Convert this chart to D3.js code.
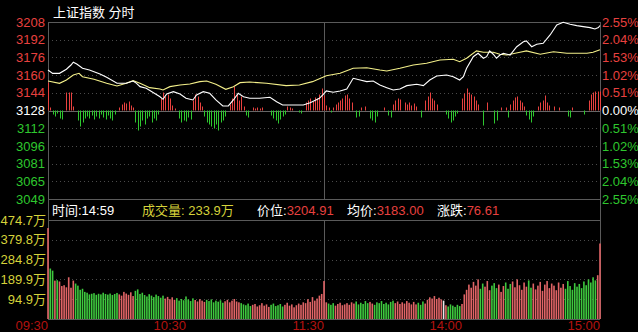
<!DOCTYPE html>
<html>
<head>
<meta charset="utf-8">
<script src="https://cdn.jsdelivr.net/npm/d3@7"></script>
<style>
  html, body { margin: 0; padding: 0; background: #000; }
  svg { display: block; font-family: "Liberation Sans", Arial, "Noto Sans CJK SC", sans-serif; }
</style>
</head>
<body>
<div id="chart"></div>
<script>
// ---- data ----
const prevClose = 3128.30;
const priceLabels = ["3208", "3192", "3176", "3160", "3144", "3128", "3112", "3096", "3081", "3065", "3049"];
const pctLabels = ["2.55%", "2.04%", "1.53%", "1.02%", "0.51%", "0.00%", "0.51%", "1.02%", "1.53%", "2.04%", "2.55%"];
const pctLevels = [2.55, 2.04, 1.53, 1.02, 0.51, 0, -0.51, -1.02, -1.53, -2.04, -2.55];
const volLabels = ["474.7万", "379.8万", "284.8万", "189.9万", "94.9万"];
const volLevels = [474.7, 379.8, 284.8, 189.9, 94.9];
const timeLabels = ["09:30", "10:30", "11:30", "14:00", "15:00"];
const timeMinutes = [0, 60, 120, 180, 240];

// white line (index)
const priceMinutes = [0, 2, 5, 8, 10, 11, 12.5, 15, 18, 22.6, 25.5, 30, 34, 37, 38.5, 40, 42.7, 48.7, 50, 51.6,
  54.5, 57.4, 60, 63, 64.6, 67.5, 70.3, 73, 76, 78.4, 80.6, 82.7, 85, 87.7, 92, 96.5, 99.4, 102, 106.7, 111,
  114, 118, 119.7, 121, 124, 127, 129.9, 132.7, 135.7, 138.6, 141.4, 144.3, 147.3, 150.1, 153, 156, 160.3, 163.2, 166, 169,
  173.3, 176.2, 179, 180.6, 182, 184.9, 187, 189.3, 190.7, 192, 193.6, 195, 196.5, 198, 200.9, 203.8, 206.7, 208, 210.3, 212.5,
  215.3, 218.3, 221.2, 224, 227, 229.9, 232.7, 235.7, 237.8, 239.3, 240];
const priceValues = [3164.8, 3161.8, 3161.8, 3165.5, 3169.3, 3171.8, 3170.2, 3166.4, 3164.8, 3161.2, 3158.2, 3152.8, 3152.8, 3154.9, 3152.8, 3149.8, 3148.3, 3140.7, 3138.4, 3143.2,
  3145.3, 3143.2, 3139.3, 3137.8, 3142.3, 3145.3, 3143.8, 3137.8, 3132.4, 3132.4, 3137.8, 3143.8, 3140.7, 3139.3, 3139.3, 3140.2, 3136.2, 3133.3, 3133.3, 3133.3,
  3135.3, 3139.3, 3142.9, 3145.9, 3144.7, 3145.9, 3147.7, 3157.3, 3155.8, 3154.3, 3154.9, 3151.3, 3148.9, 3146.8, 3147.7, 3150.7, 3151.9, 3150.7, 3155.8, 3159.4,
  3160.3, 3158.8, 3155.8, 3158.8, 3166.4, 3176.8, 3179.9, 3175.4, 3176.8, 3182.0, 3179.0, 3175.4, 3178.3, 3179.9, 3178.3, 3185.8, 3190.3, 3191.0, 3185.8, 3188.0,
  3188.9, 3196.4, 3205.4, 3207.8, 3206.0, 3204.8, 3203.9, 3203.0, 3201.8, 3203.0, 3204.91];

// yellow line
const avgMinutes = [0, 5, 8, 11, 13.5, 15, 20, 25.5, 30, 34, 37, 40, 44.2, 48.7, 50, 53, 57.4, 61.7, 66, 69,
  73, 77.3, 80.6, 83.5, 87.7, 95, 103.5, 109.3, 115, 119.5, 121, 127, 132.7, 138.6, 144.3, 147.3, 153, 158.8, 164.6, 170.4,
  176.2, 179, 182, 186.3, 189.3, 193.6, 196.5, 199.4, 205.2, 208, 214, 219.8, 225.6, 234.3, 237, 240];
const avgValues = [3154.9, 3152.8, 3155.8, 3160.3, 3161.8, 3158.8, 3156.4, 3152.8, 3150.4, 3152.8, 3155.2, 3152.8, 3148.9, 3147.7, 3146.8, 3149.8, 3151.3, 3152.2, 3154.3, 3154.9,
  3151.9, 3147.4, 3149.8, 3153.4, 3154.0, 3152.8, 3150.7, 3151.3, 3154.3, 3158.2, 3159.7, 3161.8, 3166.4, 3166.9, 3164.8, 3163.9, 3166.4, 3169.3, 3170.9, 3173.8,
  3174.5, 3172.3, 3175.4, 3182.0, 3180.8, 3180.8, 3179.0, 3178.3, 3180.8, 3182.0, 3179.0, 3181.3, 3179.9, 3179.9, 3180.8, 3183.0];

// red / green strength bars around the zero line
const flowMinutes = [0, 1, 2, 3, 4, 5, 6, 8, 9, 10, 11, 13, 14, 15, 16, 17, 18, 19, 20, 21, 22, 23, 24, 25, 26, 27, 28, 29,
  31, 32, 33, 34, 35, 36, 37, 38, 39, 40, 41, 42, 43, 44, 45, 46, 47, 48, 49, 50, 51, 52, 53, 54, 55, 57, 58, 59, 60, 61, 62,
  63, 64, 65, 66, 67, 68, 69, 70, 71, 72, 73, 74, 75, 76, 77, 79, 80, 81, 82, 83, 84, 85, 86, 87, 89, 90, 91, 92, 93,
  97, 98, 99, 100, 101, 102, 103, 104, 105, 106, 109, 110, 112, 113, 114, 115, 116, 117, 118, 119, 120, 121, 122, 123,
  124, 125, 126, 127, 128, 129, 130, 131, 132, 134, 135, 136, 138, 140, 141, 142, 143, 146, 148, 149, 150, 151, 152, 153,
  155, 156, 157, 158, 159, 160, 162, 164, 165, 166, 167, 168, 169, 173, 174, 175, 176, 177, 178, 180, 181, 182, 183, 184,
  185, 186, 187, 189, 191, 194, 195, 197, 199, 200, 201, 202, 203, 204, 205, 206, 207, 208, 209, 210, 211, 213, 214, 215,
  216, 217, 218, 220, 222, 226, 227, 228, 233, 235, 236, 237, 238, 239, 240];
const flowValues = [28, 3, -4, -6, -3, -8, -9, 18, 18, 18, 4, -10, -16, -12, -8, -6, -8, -5, -9, -6, -8, -4, -7, -9, -5, -8, -10, -4,
  3, 6, 8, 7, 9, 5, 3, -12, -20, -16, -10, -14, -8, -6, -12, -8, -10, -4, 12, 18, 14, 16, 12, 5, 2, -8, -12, -10, -11, -7, -9,
  10, 16, 14, 8, 4, -6, -12, -14, -16, -18, -14, -20, -12, -10, -6, 6, 12, 24, 16, 10, 14, 4, -5, -7, 3, 2, 3, 2, 3,
  -5, -8, -10, -13, -9, -6, -4, 4, 3, 2, -2, -3, 8, 10, 12, 9, 13, 12, 16, 22, 15, 5, 3, -2,
  3, 6, 8, 10, 12, 15, 16, 12, 8, -7, -6, 3, 4, -8, -10, -12, -6, 3, -5, -7, 6, 10, 12, 11,
  8, 6, 8, 5, 7, 4, -7, 10, 14, 18, 12, 10, 6, -4, -8, -12, -10, -6, -3, 12, 17, 22, 18, 16,
  14, 10, 6, -15, 8, -13, -10, 3, 3, -7, 6, 10, 13, 14, 10, 8, 4, -5, -9, -12, -6, 4, 8, 10,
  15, 8, 5, 4, 3, -6, -7, 3, -4, 10, 16, 18, 19, 19, 19];

// volume per minute (万), 09:30 .. 15:00
const volumes = [
  436, 242, 232, 184, 186, 180, 158, 162, 152, 200,
  150, 184, 170, 160, 140, 145, 130, 126, 118, 121,
  124, 116, 121, 118, 126, 120, 117, 122, 115, 120,
  125, 118, 112, 130, 122, 116, 128, 110, 135, 142,
  120, 126, 115, 108, 119, 112, 105, 117, 110, 102,
  112, 98, 106, 95, 104, 92, 100, 88, 96, 90,
  108, 94, 86, 99, 91, 84, 95, 88, 82, 92,
  86, 94, 80, 88, 83, 90, 78, 85, 92, 80,
  88, 96, 84, 80, 76, 70, 66, 74, 62, 68,
  72, 60, 66, 76, 64, 70, 58, 68, 74, 62,
  66, 72, 60, 68, 78, 64, 70, 56, 66, 74,
  68, 80, 76, 95, 82, 105, 88, 98, 112, 120,
  182, 80, 74, 68, 76, 64, 72, 78, 66, 70,
  76, 68, 80, 74, 84, 70, 78, 72, 86, 76,
  82, 74, 68, 80, 76, 86, 72, 78, 70, 82,
  88, 76, 84, 72, 80, 74, 86, 78, 70, 82,
  70, 78, 68, 84, 74, 92, 104, 98, 110, 96,
  102, 94, 88, 66, 60, 70, 64, 58, 68, 62,
  72, 118, 140, 165, 150, 178, 160, 190, 145, 170,
  155, 182, 138, 160, 172, 148, 165, 130, 158, 175,
  145, 168, 180, 152, 190, 162, 140, 175, 155, 185,
  150, 170, 142, 160, 178, 135, 165, 182, 148, 170,
  160, 138, 175, 150, 168, 145, 182, 158, 140, 172,
  155, 168, 148, 180, 162, 190, 175, 200, 185, 210,
  362];
const flatMinutes = [172];

// ---- layout ----
const width = 638, height = 332;
const plotLeft = 48, plotRight = 600;
const priceTop = 22, priceBottom = 199;
const infoBottom = 220;
const volTop = 220, volBottom = 319;

const red = "#e8413f", green = "#2ec72e", grid = "#4a4a4a", frame = "#5a5a5a";
const volRed = "#e06466", volGreen = "#3ec83e";

const svg = d3.select("#chart").append("svg")
  .attr("width", width)
  .attr("height", height)
  .style("background", "#000");

const x = d3.scaleLinear().domain([0, 240]).range([plotLeft, plotRight]);
const yPrice = d3.scaleLinear()
  .domain([prevClose * (1 - 0.0255), prevClose * (1 + 0.0255)])
  .range([priceBottom, priceTop]);
const yVol = d3.scaleLinear().domain([0, 474.7]).range([volBottom, volTop]);
const zeroY = yPrice(prevClose);
const yFlow = d3.scaleLinear().domain([-30, 30]).range([zeroY + 30, zeroY - 30]);
const priceAt = d3.scaleLinear().domain(priceMinutes).range(priceValues);

const levelY = p => Math.round(yPrice(prevClose * (1 + p / 100))) + 0.5;

// dotted grid in price panel
svg.append("g").selectAll("line")
  .data(pctLevels.filter(p => p !== 0 && Math.abs(p) < 2.5))
  .join("line")
  .attr("x1", plotLeft).attr("x2", plotRight)
  .attr("y1", levelY).attr("y2", levelY)
  .attr("stroke", grid).attr("stroke-dasharray", "1,3");

// zero line
svg.append("line")
  .attr("x1", plotLeft).attr("x2", plotRight)
  .attr("y1", Math.round(zeroY) + 0.5).attr("y2", Math.round(zeroY) + 0.5)
  .attr("stroke", "#666");

// dotted grid in volume panel
svg.append("g").selectAll("line")
  .data(volLevels.slice(1))
  .join("line")
  .attr("x1", plotLeft).attr("x2", plotRight)
  .attr("y1", d => Math.round(yVol(d)) + 0.5).attr("y2", d => Math.round(yVol(d)) + 0.5)
  .attr("stroke", grid).attr("stroke-dasharray", "1,3");

// frame
const frameG = svg.append("g").attr("stroke", frame).attr("shape-rendering", "crispEdges");
frameG.append("line").attr("x1", plotLeft).attr("x2", plotRight).attr("y1", priceTop).attr("y2", priceTop);
frameG.append("line").attr("x1", plotLeft).attr("x2", plotRight).attr("y1", priceBottom).attr("y2", priceBottom);
frameG.append("line").attr("x1", plotLeft).attr("x2", plotRight).attr("y1", infoBottom).attr("y2", infoBottom);
frameG.append("line").attr("x1", plotLeft).attr("x2", plotRight).attr("y1", volBottom).attr("y2", volBottom);
frameG.append("line").attr("x1", plotLeft).attr("x2", plotLeft).attr("y1", priceTop).attr("y2", volBottom);
frameG.append("line").attr("x1", plotRight).attr("x2", plotRight).attr("y1", priceTop).attr("y2", volBottom);
// midday separator
const midX = Math.round(x(120)) + 0.5;
frameG.append("line").attr("x1", midX).attr("x2", midX).attr("y1", priceTop).attr("y2", priceBottom);
frameG.append("line").attr("x1", midX).attr("x2", midX).attr("y1", volTop).attr("y2", volBottom);

// strength bars
svg.append("g").selectAll("rect")
  .data(flowMinutes.map((m, i) => ({ m, v: flowValues[i] })))
  .join("rect")
  .attr("x", d => Math.round(x(d.m)))
  .attr("width", 1)
  .attr("y", d => d.v > 0 ? yFlow(d.v) : zeroY)
  .attr("height", d => Math.abs(yFlow(d.v) - zeroY))
  .attr("fill", d => d.v > 0 ? red : green);

// volume bars
svg.append("g").selectAll("rect")
  .data(volumes.map((v, m) => ({ m, v })))
  .join("rect")
  .attr("x", d => x(d.m) - 0.8)
  .attr("width", 1.6)
  .attr("y", d => yVol(d.v))
  .attr("height", d => volBottom - yVol(d.v))
  .attr("fill", d => {
    if (flatMinutes.includes(d.m)) return "#e8e8e8";
    const prev = d.m === 0 ? prevClose : priceAt(d.m - 1);
    return priceAt(d.m) >= prev ? volRed : volGreen;
  });

// lines
const line = d3.line().x(d => x(d[0])).y(d => yPrice(d[1]));
svg.append("path")
  .datum(avgMinutes.map((m, i) => [m, avgValues[i]]))
  .attr("d", line).attr("fill", "none").attr("stroke", "#f4f08a").attr("stroke-width", 1.1);
svg.append("path")
  .datum(priceMinutes.map((m, i) => [m, priceValues[i]]))
  .attr("d", line).attr("fill", "none").attr("stroke", "#ffffff").attr("stroke-width", 1.1);

// left price labels
svg.append("g").selectAll("text")
  .data(pctLevels)
  .join("text")
  .attr("x", 45)
  .attr("y", p => yPrice(prevClose * (1 + p / 100)))
  .attr("dy", "0.36em")
  .attr("text-anchor", "end")
  .style("font-size", "13px")
  .attr("fill", p => p > 0 ? red : (p < 0 ? green : "#ffffff"))
  .text((p, i) => priceLabels[i]);

// right percent labels
svg.append("g").selectAll("text")
  .data(pctLevels)
  .join("text")
  .attr("x", 602)
  .attr("y", p => yPrice(prevClose * (1 + p / 100)))
  .attr("dy", "0.36em")
  .style("font-size", "13px")
  .attr("fill", p => p > 0 ? red : (p < 0 ? green : "#ffffff"))
  .text((p, i) => pctLabels[i]);

// volume labels
svg.append("g").selectAll("text")
  .data(volLevels)
  .join("text")
  .attr("x", 46)
  .attr("y", d => yVol(d))
  .attr("dy", "0.36em")
  .attr("text-anchor", "end")
  .style("font-size", "13px")
  .attr("fill", "#d6d23a")
  .text((d, i) => volLabels[i]);

// time labels
svg.append("g").selectAll("text")
  .data(timeMinutes)
  .join("text")
  .attr("x", m => x(m))
  .attr("y", 330)
  .attr("text-anchor", "end")
  .style("font-size", "13px")
  .attr("fill", "#b3120f")
  .text((m, i) => timeLabels[i]);

// title
svg.append("text")
  .attr("x", 53).attr("y", 17)
  .style("font-size", "13px")
  .attr("fill", "#ffffff")
  .text("上证指数  分时");

// info bar
const info = svg.append("text").attr("y", 215).style("font-size", "13px");
info.append("tspan").attr("x", 52).attr("fill", "#ffffff").text("时间:14:59");
info.append("tspan").attr("x", 142).attr("fill", "#d6d23a").text("成交量: 233.9万");
info.append("tspan").attr("x", 257).attr("fill", "#ffffff").text("价位:");
info.append("tspan").attr("fill", red).text("3204.91");
info.append("tspan").attr("x", 347).attr("fill", "#ffffff").text("均价:");
info.append("tspan").attr("fill", red).text("3183.00");
info.append("tspan").attr("x", 437).attr("fill", "#ffffff").text("涨跌:");
info.append("tspan").attr("fill", red).text("76.61");
</script>
</body>
</html>
